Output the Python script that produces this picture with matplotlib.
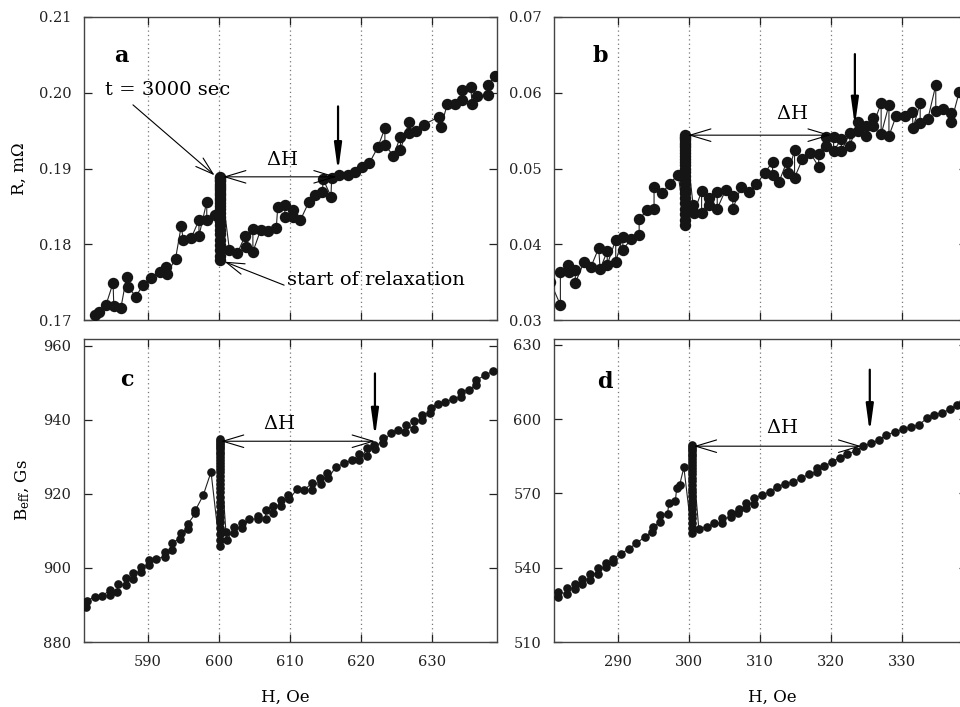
import matplotlib
matplotlib.use("Agg")
import matplotlib.pyplot as plt

plt.rcParams['font.family'] = ['DejaVu Serif']
plt.rcParams['mathtext.fontset'] = 'dejavuserif'

# ---------------- panel a : R(H), 600 Oe ----------------
a_H_before = [582.6, 583.1, 584.1, 585.1, 585.2, 586.2, 587.0, 587.2, 588.3, 589.3, 590.4,
              591.7, 592.6, 592.7, 593.9, 594.7, 595.0, 596.1, 597.2, 597.2, 598.3, 598.3, 599.4]
a_R_before = [0.1707, 0.1711, 0.1720, 0.1749, 0.1718, 0.1716, 0.1757, 0.1744, 0.1731, 0.1746, 0.1756,
              0.1764, 0.1770, 0.1761, 0.1781, 0.1824, 0.1805, 0.1808, 0.1832, 0.1811, 0.1856, 0.1832, 0.1838]
a_relax_H = 600.2
a_relax_R = [0.1779, 0.1785, 0.1792, 0.1799, 0.1806, 0.1813, 0.1819, 0.1825, 0.1831, 0.1836,
             0.1841, 0.1846, 0.1850, 0.1854, 0.1858, 0.1861, 0.1865, 0.1868, 0.1871, 0.1874,
             0.1877, 0.1880, 0.1883, 0.1885, 0.1887, 0.1889]
a_H_after = [601.5, 602.6, 603.7, 603.8, 604.8, 604.8, 605.9, 606.9, 608.1, 608.3, 609.3, 609.3,
             610.5, 610.5, 611.5, 612.7, 613.6, 614.6, 614.7, 615.8, 615.9, 617.0, 618.2, 619.2,
             620.2, 621.2, 622.4, 623.4, 623.4, 624.6, 625.6, 625.6, 626.8, 626.8, 627.8, 628.9,
             631.0, 631.3, 632.2, 633.3, 634.3, 634.3, 635.5, 635.7, 636.4, 637.9, 637.9, 638.9]
a_R_after = [0.1792, 0.1788, 0.1811, 0.1797, 0.1820, 0.1790, 0.1819, 0.1817, 0.1822, 0.1849, 0.1852, 0.1836,
             0.1845, 0.1836, 0.1832, 0.1856, 0.1865, 0.1869, 0.1886, 0.1863, 0.1887, 0.1891, 0.1891, 0.1896,
             0.1902, 0.1907, 0.1928, 0.1953, 0.1931, 0.1917, 0.1942, 0.1925, 0.1961, 0.1947, 0.1950, 0.1958,
             0.1968, 0.1955, 0.1985, 0.1985, 0.1990, 0.2003, 0.2007, 0.1985, 0.1996, 0.1997, 0.2010, 0.2022]

# ---------------- panel b : R(H), 300 Oe ----------------
b_H_before = [280.5, 281.9, 281.9, 283.0, 283.1, 284.0, 284.0, 285.2, 286.2, 287.3, 287.5, 288.5, 288.5,
              289.7, 289.7, 290.7, 290.7, 291.9, 293.0, 293.0, 294.1, 295.1, 295.1, 296.2, 297.3, 298.5]
b_R_before = [0.0350, 0.0320, 0.0364, 0.0373, 0.0363, 0.0366, 0.0349, 0.0376, 0.0370, 0.0395, 0.0367, 0.0391, 0.0373,
              0.0406, 0.0377, 0.0410, 0.0393, 0.0407, 0.0412, 0.0433, 0.0445, 0.0447, 0.0476, 0.0467, 0.0480, 0.0492]
b_relax_H = 299.5
b_relax_R = [0.0425, 0.0432, 0.0440, 0.0447, 0.0454, 0.0461, 0.0467, 0.0473, 0.0479, 0.0485,
             0.0490, 0.0495, 0.0500, 0.0505, 0.0509, 0.0513, 0.0517, 0.0521, 0.0525, 0.0528,
             0.0531, 0.0534, 0.0537, 0.0540, 0.0542, 0.0544]
b_H_after = [300.6, 300.7, 301.8, 301.8, 302.9, 302.9, 304.0, 304.0, 305.2, 306.2, 306.2, 307.4, 308.5,
             309.5, 310.7, 311.8, 311.8, 312.7, 313.8, 314.0, 314.9, 314.9, 316.0, 317.1, 318.3, 318.3,
             319.4, 319.4, 320.4, 320.4, 321.5, 321.5, 322.7, 322.7, 323.8, 323.8, 324.9, 324.9, 325.9,
             325.9, 327.1, 327.1, 328.2, 328.2, 329.2, 330.4, 331.5, 331.6, 332.6, 332.6, 333.7, 334.8,
             334.8, 335.8, 336.9, 337.0, 338.1, 339.0]
b_R_after = [0.0452, 0.0441, 0.0470, 0.0441, 0.0461, 0.0452, 0.0469, 0.0447, 0.0472, 0.0464, 0.0447, 0.0476, 0.0469,
             0.0479, 0.0494, 0.0509, 0.0491, 0.0482, 0.0509, 0.0494, 0.0524, 0.0488, 0.0512, 0.0521, 0.0502, 0.0519,
             0.0541, 0.0530, 0.0542, 0.0523, 0.0539, 0.0523, 0.0547, 0.0530, 0.0561, 0.0550, 0.0543, 0.0556, 0.0567,
             0.0556, 0.0586, 0.0545, 0.0584, 0.0543, 0.0569, 0.0569, 0.0574, 0.0554, 0.0586, 0.0560, 0.0566, 0.0610,
             0.0576, 0.0578, 0.0573, 0.0562, 0.0601, 0.0590]

# ---------------- panel c : Beff(H), 600 Oe ----------------
c_H_before = [581.25, 581.4, 582.5, 583.6, 584.6, 584.7, 585.65, 585.8, 586.9, 586.9, 587.9, 587.9,
              589.0, 589.1, 590.2, 590.2, 591.2, 592.4, 592.4, 593.4, 593.4, 594.5, 594.6, 595.6,
              595.6, 596.7, 596.7, 597.8, 598.9]
c_B_before = [889.5, 891.1, 892.2, 892.3, 894.1, 892.6, 893.5, 895.6, 895.3, 897.4, 897.1, 898.7,
              898.9, 900.3, 900.7, 902.1, 902.5, 903.0, 904.3, 904.8, 906.8, 907.9, 909.3, 910.6,
              911.8, 914.7, 915.6, 919.6, 925.9]
c_relax_H = 600.1
c_relax_B = [905.9, 907.5, 909.2, 910.8, 912.3, 913.8, 915.2, 916.6, 917.9, 919.2, 920.4, 921.6,
             922.7, 923.8, 924.8, 925.8, 926.7, 927.6, 928.4, 929.2, 930.0, 930.7, 931.4, 932.0,
             932.6, 933.2, 933.7, 934.2, 934.7]
c_H_after = [601.0, 601.2, 602.2, 602.2, 603.3, 603.3, 604.3, 605.5, 605.5, 606.6, 606.6, 607.6, 607.6,
             608.8, 608.8, 609.8, 609.9, 611.0, 612.0, 613.2, 613.2, 614.3, 614.4, 615.3, 615.4, 616.5,
             617.7, 618.8, 619.8, 619.8, 620.9, 620.9, 621.9, 622.0, 623.1, 623.1, 624.2, 625.3, 626.3,
             626.4, 627.5, 627.5, 628.6, 628.7, 629.7, 629.9, 630.9, 631.9, 633.0, 634.1, 634.1, 635.2,
             636.2, 636.2, 637.5, 638.7]
c_B_after = [909.7, 907.5, 911.1, 909.5, 912.0, 910.9, 913.1, 913.3, 914.0, 913.1, 915.6, 916.7, 914.9,
             918.3, 916.7, 919.6, 918.5, 921.2, 921.0, 923.0, 921.0, 924.4, 922.6, 925.7, 924.2, 927.3,
             928.2, 929.1, 930.7, 929.0, 932.3, 930.2, 933.2, 932.0, 935.0, 933.6, 936.5, 937.2, 936.8,
             938.6, 937.4, 939.7, 939.9, 941.3, 941.9, 943.3, 944.2, 944.9, 945.5, 946.2, 947.6, 948.0,
             949.4, 950.6, 952.0, 953.2]

# ---------------- panel d : Beff(H), 300 Oe ----------------
d_H_before = [281.55, 281.55, 282.8, 282.8, 283.9, 283.9, 285.0, 285.0, 286.1, 286.1, 287.2, 287.2,
              288.3, 288.3, 289.3, 289.3, 290.5, 291.55, 292.6, 293.8, 294.8, 295.0, 296.0, 296.0,
              297.0, 297.2, 298.1, 298.3, 298.7, 299.3]
d_B_before = [528.2, 530.2, 529.5, 532.0, 531.6, 533.6, 533.6, 535.6, 535.2, 537.6, 537.6, 539.7,
              540.1, 541.9, 542.4, 543.7, 545.7, 547.7, 549.8, 552.5, 554.5, 556.5, 558.5, 561.2,
              561.9, 566.2, 567.0, 572.4, 573.4, 580.5]
d_relax_H = 300.4
d_relax_B = [554.1, 556.0, 558.0, 559.9, 561.8, 563.6, 565.4, 567.1, 568.8, 570.4, 572.0, 573.5,
             575.0, 576.4, 577.8, 579.1, 580.4, 581.6, 582.8, 583.9, 585.0, 586.0, 587.0, 587.9,
             588.7, 589.5]
d_H_after = [301.4, 302.6, 303.6, 304.7, 304.7, 305.9, 305.9, 306.9, 307.0, 308.1, 308.1, 309.2, 309.2,
             310.3, 311.4, 312.4, 313.5, 314.7, 315.8, 316.9, 318.0, 318.1, 319.1, 320.2, 321.3, 322.3,
             323.5, 324.6, 325.7, 326.8, 327.8, 329.1, 330.2, 331.3, 332.4, 333.5, 334.5, 335.7, 336.8,
             337.8, 338.6]
d_B_after = [555.8, 556.5, 557.9, 558.1, 559.9, 560.3, 562.2, 562.2, 563.9, 564.3, 566.2, 565.9, 568.0,
             569.3, 570.7, 572.7, 573.8, 574.7, 576.1, 577.8, 578.7, 580.1, 581.0, 582.8, 584.5, 585.9,
             587.2, 589.1, 590.2, 591.6, 593.6, 594.9, 595.9, 596.9, 597.6, 600.3, 601.7, 602.6, 604.0,
             605.7, 606.8]

# ---------------- axis settings ----------------
a_xticks = [590, 600, 610, 620, 630]
b_xticks = [290, 300, 310, 320, 330]
a_yticks = [0.17, 0.18, 0.19, 0.20, 0.21]
b_yticks = [0.03, 0.04, 0.05, 0.06, 0.07]
c_yticks = [880, 900, 920, 940, 960]
d_yticks = [510, 540, 570, 600, 630]

fig = plt.figure(figsize=(9.6, 7.07), dpi=100)
W, Hf = 960.0, 707.0

def make_ax(left, top, width=413, height=303):
    return fig.add_axes([left / W, (Hf - top - height) / Hf, width / W, height / Hf])

axa = make_ax(84, 17)
axb = make_ax(554, 17)
axc = make_ax(84, 339)
axd = make_ax(554, 339)

def series(hb, vb, hr, vr, ha, va):
    return hb + [hr] * len(vr) + ha, vb + vr + va

def style(ax, xlim, ylim, xticks, yticks, yfmt, xlabels):
    ax.set_xlim(*xlim)
    ax.set_ylim(*ylim)
    ax.set_xticks(xticks)
    ax.set_yticks(yticks)
    ax.set_yticklabels([yfmt.format(v) for v in yticks])
    ax.grid(axis='x', linestyle=(0, (1, 2.5)), color='#777777', lw=0.9)
    ax.tick_params(direction='in', top=True, right=True, length=6, width=0.9,
                   labelsize=10.5, pad=9, colors='#222222')
    if not xlabels:
        ax.tick_params(labelbottom=False)
    for s in ax.spines.values():
        s.set_color('#444444')
        s.set_linewidth(1.0)

def draw(ax, H, V, ms):
    ax.plot(H, V, '-', color='#222222', lw=0.8, zorder=2)
    ax.plot(H, V, 'o', color='#151515', ms=ms, mec='#151515', zorder=3)

open_arrow = dict(color='k', lw=0.8, shrinkA=0, shrinkB=0, mutation_scale=10)

def delta_h(ax, x0, x1, y, tx, ty):
    ax.annotate('', xy=(x0, y), xytext=(x1, y),
                arrowprops=dict(arrowstyle='<->,head_length=1.5,head_width=0.45', **open_arrow))
    ax.text(tx, ty, r'$\Delta$H', ha='center', va='center', fontsize=14)

def down_arrow(ax, x, y0, y1):
    ax.annotate('', xy=(x, y1), xytext=(x, y0),
                arrowprops=dict(arrowstyle='-|>,head_length=1.6,head_width=0.22', color='k',
                                lw=1.6, shrinkA=0, shrinkB=0, mutation_scale=10))

def label(ax, x, y, s):
    ax.text(x, y, s, ha='center', va='center', fontsize=16, fontweight='bold')

# panel a
Ha, Ra = series(a_H_before, a_R_before, a_relax_H, a_relax_R, a_H_after, a_R_after)
draw(axa, Ha, Ra, 7.2)
style(axa, (581.0, 639.2), (0.17, 0.21), a_xticks, a_yticks, '{:.2f}', False)
axa.set_ylabel('R, m\u03a9', fontsize=12, labelpad=8)
label(axa, 586.3, 0.2048, 'a')
axa.text(584.0, 0.2004, 't = 3000 sec', ha='left', va='center', fontsize=14)
axa.annotate('', xy=(599.4, 0.1891), xytext=(587.9, 0.1984),
             arrowprops=dict(arrowstyle='->,head_length=1.3,head_width=0.4', **open_arrow))
axa.text(609.6, 0.1753, 'start of relaxation', ha='left', va='center', fontsize=14)
axa.annotate('', xy=(600.8, 0.1777), xytext=(609.2, 0.1746),
             arrowprops=dict(arrowstyle='->,head_length=1.3,head_width=0.4', **open_arrow))
delta_h(axa, 600.6, 616.6, 0.1889, 608.9, 0.1911)
down_arrow(axa, 616.8, 0.1982, 0.1896)

# panel b
Hb, Rb = series(b_H_before, b_R_before, b_relax_H, b_relax_R, b_H_after, b_R_after)
draw(axb, Hb, Rb, 7.2)
style(axb, (281.0, 339.2), (0.03, 0.07), b_xticks, b_yticks, '{:.2f}', False)
label(axb, 287.5, 0.0648, 'b')
delta_h(axb, 299.9, 320.0, 0.0544, 314.5, 0.0572)
down_arrow(axb, 323.4, 0.0651, 0.0556)

# panel c
Hc, Bc = series(c_H_before, c_B_before, c_relax_H, c_relax_B, c_H_after, c_B_after)
draw(axc, Hc, Bc, 5.2)
style(axc, (581.0, 639.2), (880, 961.8), a_xticks, c_yticks, '{:.0f}', True)
axc.set_ylabel(r'B$_{\rm eff}$, Gs', fontsize=12, labelpad=8)
axc.set_xlabel('H, Oe', fontsize=12)
label(axc, 587.0, 950.7, 'c')
delta_h(axc, 600.3, 622.0, 934.2, 608.5, 938.8)
down_arrow(axc, 622.0, 952.5, 935.3)

# panel d
Hd, Bd = series(d_H_before, d_B_before, d_relax_H, d_relax_B, d_H_after, d_B_after)
draw(axd, Hd, Bd, 5.2)
style(axd, (281.0, 339.2), (510, 632.4), b_xticks, d_yticks, '{:.0f}', True)
axd.set_xlabel('H, Oe', fontsize=12)
axd.xaxis.set_label_coords((772 - 554) / 413.0, -0.155)
axc.xaxis.set_label_coords((285 - 84) / 413.0, -0.155)
label(axd, 288.1, 615.1, 'd')
delta_h(axd, 300.7, 324.3, 589.1, 313.1, 596.3)
down_arrow(axd, 325.5, 620.0, 594.6)

fig.savefig('out.png', dpi=100)
